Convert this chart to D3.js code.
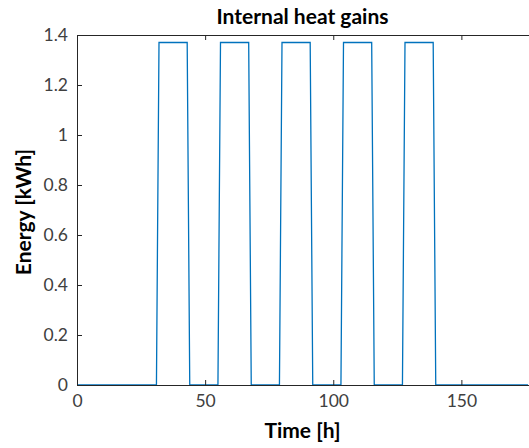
<!DOCTYPE html>
<html><head><meta charset="utf-8">
<script src="https://cdn.jsdelivr.net/npm/d3@7"></script>
<style>body{margin:0;background:#fff}svg{display:block}</style>
</head><body>
<svg id="c" width="529" height="448"></svg>
<script>
const timeH = [0,31,32,43,44,55,56,67,68,79,80,91,92,103,104,115,116,127,128,139,140,176];
const energyKWh = [0,0,1.37,1.37,0,0,1.37,1.37,0,0,1.37,1.37,0,0,1.37,1.37,0,0,1.37,1.37,0,0];
const xTicks = [0,50,100,150];
const yTicks = [0,0.2,0.4,0.6,0.8,1,1.2,1.4];
const yTickLabels = ["0","0.2","0.4","0.6","0.8","1","1.2","1.4"];

const svg = d3.select("#c");
const L=77, R=528, T=35, B=385;
const x = d3.scaleLinear().domain([0,176]).range([L,R]);
const y = d3.scaleLinear().domain([0,1.4]).range([B,T]);
const font = "Lato, 'Open Sans', sans-serif";
const axCol = "#262626";

// line
const line = d3.line().x((d,i)=>x(timeH[i])).y(d=>y(d));
svg.append("path").datum(energyKWh).attr("d",line)
  .attr("fill","none").attr("stroke","#0072BD").attr("stroke-width",1.3);

// bottom axis
const xa = svg.append("g").attr("transform",`translate(0,${B})`)
  .call(d3.axisBottom(x).tickValues(xTicks).tickSize(-5).tickPadding(10).tickFormat(d3.format("d")));
// top axis
const xt = svg.append("g").attr("transform",`translate(0,${T})`)
  .call(d3.axisTop(x).tickValues(xTicks).tickSize(-5).tickFormat(""));
// left axis
const ya = svg.append("g").attr("transform",`translate(${L},0)`)
  .call(d3.axisLeft(y).tickValues(yTicks).tickSize(-5).tickPadding(9).tickFormat((d,i)=>yTickLabels[i]));
[xa,xt,ya].forEach(g=>{
  g.select(".domain").attr("stroke",axCol).attr("stroke-width",1);
  g.selectAll(".tick line").attr("stroke",axCol);
  g.selectAll(".tick text").attr("fill","#404040").style("font-family",font).style("font-size","17.5px");
});
xa.select(".domain").attr("d",`M${L},0.5H${R+1}`);
xt.select(".domain").attr("d",`M${L},0.5H${R+1}`);
ya.select(".domain").attr("d",`M0.5,${B}V${T}`);

svg.append("text").attr("x",(L+R)/2).attr("y",24).attr("text-anchor","middle")
  .style("font-family",font).style("font-weight","bold").style("font-size","21px").attr("fill","#000")
  .text("Internal heat gains");
svg.append("text").attr("x",(L+R)/2).attr("y",438).attr("text-anchor","middle")
  .style("font-family",font).style("font-weight","bold").style("font-size","21px").attr("fill","#000")
  .text("Time [h]");
svg.append("text").attr("transform",`translate(31,212) rotate(-90)`).attr("text-anchor","middle")
  .style("font-family",font).style("font-weight","bold").style("font-size","21px").attr("fill","#000")
  .text("Energy [kWh]");
</script>
</body></html>
